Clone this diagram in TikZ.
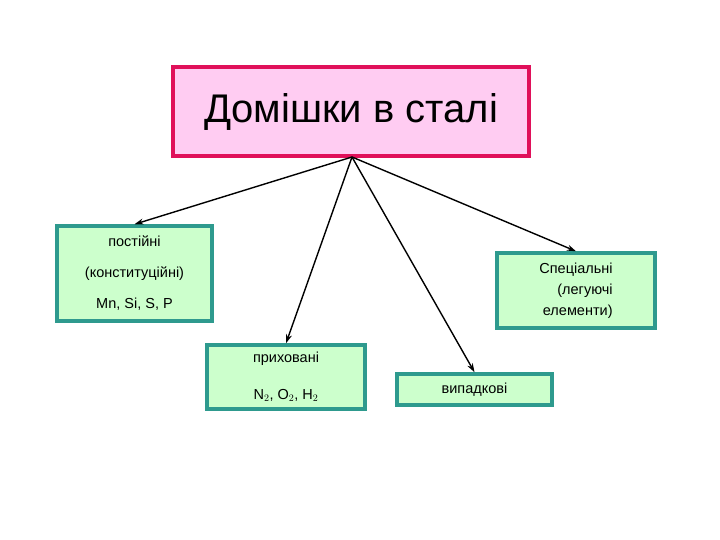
\documentclass[tikz,border=0pt]{standalone}
\usepackage{fontspec}
\setmainfont{Liberation Sans}
\usetikzlibrary{arrows.meta}
\definecolor{pinkfill}{HTML}{FFCCF2}
\definecolor{pinkbd}{HTML}{E0105A}
\definecolor{grfill}{HTML}{CCFFCC}
\definecolor{grbd}{HTML}{2E9A8E}
\begin{document}
\begin{tikzpicture}[x=1pt,y=-1pt,
  gbox/.style={draw=grbd,line width=3.5pt,fill=grfill,align=center,inner sep=1pt,font=\fontsize{14.5}{31}\selectfont},
  arr/.style={-{Stealth[length=9pt,width=6pt]},line width=1.4pt}]
\useasboundingbox (0,0) rectangle (720,540);
\node[draw=pinkbd,fill=pinkfill,line width=3.5pt,minimum width=356pt,minimum height=89pt,font=\fontsize{40}{46}\selectfont] (top) at (351,111.5) {Домішки в сталі};
\node[gbox,minimum width=155pt,minimum height=95pt] (a) at (134.5,273.5) {постійні\\(конституційні)\\Mn, Si, S, P};
\node[gbox,minimum width=158pt,minimum height=75pt,align=right,font=\fontsize{14.5}{21}\selectfont] (b) at (576,290.5) {Спеціальні\\(легуючі\\елементи)};
\node[gbox,minimum width=158pt,minimum height=64pt,font=\fontsize{14.5}{37}\selectfont] (c) at (286,377) {приховані\\N$_2$, O$_2$, H$_2$};
\node[gbox,minimum width=155pt,minimum height=31pt] (d) at (474.5,389.5) {випадкові};
\coordinate (o) at (352,157);
\draw[arr] (o) -- (a.north);
\draw[arr] (o) -- (b.north);
\draw[arr] (o) -- (c.north);
\draw[arr] (o) -- (d.north);
\end{tikzpicture}
\end{document}
